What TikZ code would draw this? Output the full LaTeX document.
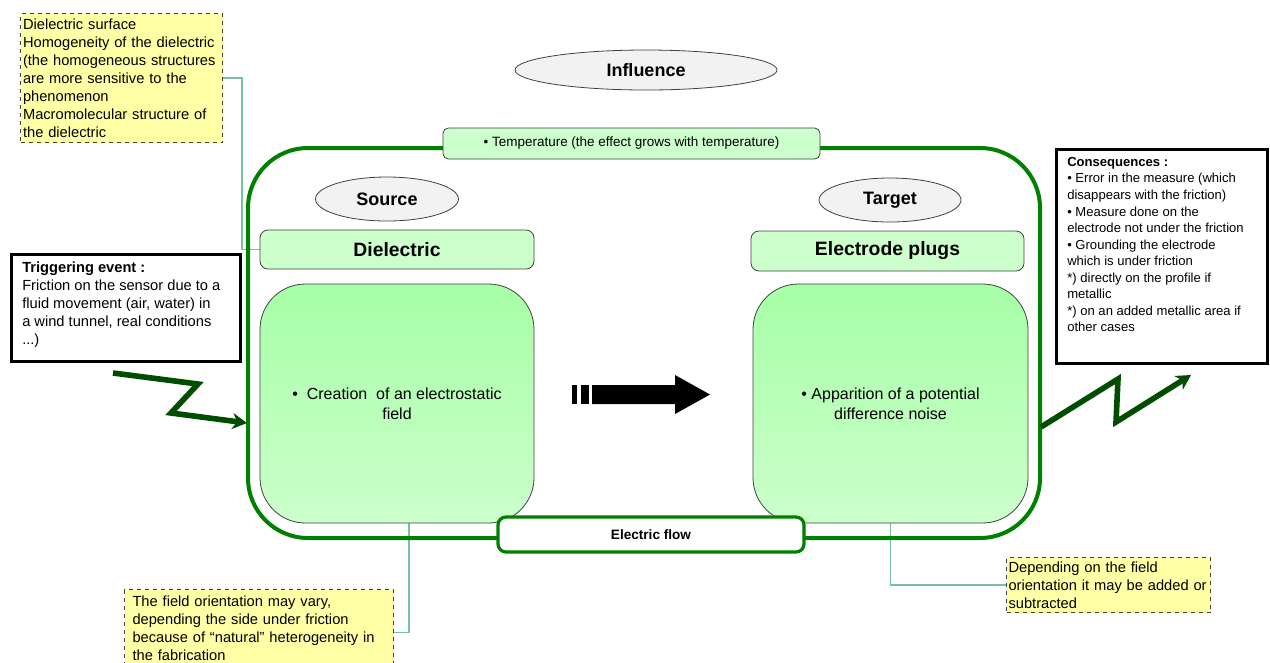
\documentclass[tikz,border=0pt]{standalone}
\usepackage{fontspec}
\setmainfont{Liberation Sans}
\usetikzlibrary{arrows.meta,calc,shapes.geometric,backgrounds}
\newcommand\pxu{0.75pt}
\definecolor{frameg}{RGB}{0,128,0}
\definecolor{lightg}{RGB}{204,255,204}
\definecolor{topg}{RGB}{166,255,166}
\definecolor{ellg}{RGB}{242,242,242}
\definecolor{notey}{RGB}{255,255,166}
\definecolor{connc}{RGB}{120,192,160}
\definecolor{zigg}{RGB}{0,77,0}
\definecolor{edgeg}{RGB}{64,64,64}
\tikzset{
  ell/.style={ellipse, draw=edgeg, fill=ellg, line width=0.6pt, inner sep=0pt, font=\fontsize{13.5}{16}\selectfont\bfseries},
  titlebox/.style={draw=edgeg, fill=lightg, rounded corners=6pt, line width=0.6pt, inner sep=0pt, font=\fontsize{14.5}{17}\selectfont\bfseries},
  bigbox/.style={draw=edgeg, top color=topg, bottom color=lightg, rounded corners=34pt, line width=0.6pt, inner sep=0pt, align=center, font=\fontsize{12}{15}\selectfont},
  notebox/.style={draw=black!75, dashed, fill=notey, line width=0.8pt, inner sep=1.5pt, anchor=north west, align=left, font=\fontsize{11}{13.5}\selectfont},
  blackbox/.style={draw=black, line width=2.3pt, fill=white, inner sep=0pt, anchor=north west},
  conn/.style={draw=connc, line width=0.9pt},
  zig/.style={draw=zigg, line width=4.2pt, line join=miter, -{Stealth[length=11pt,width=12pt]}},
}
\begin{document}
\begin{tikzpicture}[x=0.75pt,y=-0.75pt]
\useasboundingbox (0,0) rectangle (1270,662);

% notes
\node[notebox, minimum width=202*\pxu, minimum height=129*\pxu, text width=197*\pxu] (note1) at (20,13)
 {Dielectric surface\\Homogeneity of the dielectric\\(the homogeneous structures\\are more sensitive to the\\phenomenon\\Macromolecular structure of\\the dielectric};
\node[notebox, minimum width=269*\pxu, minimum height=78*\pxu, text width=253*\pxu, inner xsep=8*\pxu] (note2) at (124,589)
 {The field orientation may vary,\\depending the side under friction\\because of “natural” heterogeneity in\\the fabrication};
\node[notebox, minimum width=204*\pxu, minimum height=55*\pxu, text width=200*\pxu] (note3) at (1006,557)
 {Depending on the field\\orientation it may be added or\\subtracted};

% frame
\node[draw=frameg, line width=3pt, rounded corners=45pt, minimum width=792*\pxu, minimum height=390*\pxu] (frame) at (644,343) {};

\node[titlebox, minimum width=274*\pxu, minimum height=39*\pxu] (diel) at (397,249.5) {Dielectric};
\node[titlebox, minimum width=273*\pxu, minimum height=40*\pxu] (elec) at (887.5,251) {Electrode plugs};

\node[bigbox, minimum width=274*\pxu, minimum height=239*\pxu] (leftbox) at (397,403.5)
 {\textbullet\ \ Creation\ \ of an electrostatic\\field};
\node[bigbox, minimum width=275*\pxu, minimum height=239*\pxu] (rightbox) at (890.5,403.5)
 {\textbullet\ Apparition of a potential\\difference noise};

% connectors (behind)
\begin{scope}[on background layer]
\draw[conn] (note1.east) -- ++(19,0) |- (diel.west);
\draw[conn] ([xshift=12*\pxu]leftbox.south) |- ([yshift=-4*\pxu]note2.east);
\draw[conn] (rightbox.south) |- (note3.west);
\end{scope}

% ellipses
\node[ell, minimum width=262*\pxu, minimum height=40*\pxu] (infl) at (646,70) {Influence};
\node[ell, minimum width=143*\pxu, minimum height=44*\pxu] (src) at (387,199) {Source};
\node[ell, minimum width=142*\pxu, minimum height=44*\pxu] (tgt) at (890,200) {Target};

% temperature
\node[draw=edgeg, fill=lightg, rounded corners=4pt, line width=0.6pt, minimum width=377*\pxu, minimum height=31*\pxu, font=\fontsize{10.1}{12}\selectfont] (temp) at (631.5,143.5)
 {\textbullet\ Temperature (the effect grows with temperature)};

% electric flow
\node[draw=frameg, fill=white, line width=2.4pt, rounded corners=6pt, minimum width=306*\pxu, minimum height=35*\pxu, font=\fontsize{10.2}{12}\selectfont\bfseries] (flow) at (651,534.5) {Electric flow};

% black arrow
\fill[black] (572,385) rectangle (577,404);
\fill[black] (581,385) rectangle (589,404);
\fill[black] (592,385) -- (675,385) -- (675,375) -- (710,394.5) -- (675,414) -- (675,404) -- (592,404) -- cycle;

% triggering event
\node[blackbox, minimum width=229*\pxu, minimum height=107*\pxu] (trig) at (10,253) {};
\node[anchor=north west, inner sep=0pt, align=left, font=\fontsize{11}{13.5}\selectfont] (trigtext) at (22,262)
 {\textbf{Triggering event :}\\Friction on the sensor due to a\\fluid movement (air, water) in\\a wind tunnel, real conditions\\...)};

% consequences
\node[blackbox, minimum width=211*\pxu, minimum height=214*\pxu] (cons) at (1055,148) {};
\node[anchor=north west, inner sep=0pt, align=left, font=\fontsize{9.8}{12.4}\selectfont] (constext) at (1067,157)
 {\textbf{Consequences :}\\\textbullet\ Error in the measure (which\\disappears with the friction)\\\textbullet\ Measure done on the\\electrode not under the friction\\\textbullet\ Grounding the electrode\\which is under friction\\*) directly on the profile if\\metallic\\*) on an added metallic area if\\other cases};

% zigzag arrows
\coordinate (za) at (113,373);
\coordinate (zb) at (198,384);
\coordinate (zc) at (171,413);
\coordinate (zd) at (247,423);
\draw[zig] (za) -- (zb) -- (zc) -- (zd);
\coordinate (ya) at (1041,427);
\coordinate (yb) at (1118,379);
\coordinate (yc) at (1116,422);
\coordinate (yd) at (1191,375);
\draw[zig] (ya) -- (yb) -- (yc) -- (yd);
\end{tikzpicture}
\end{document}
